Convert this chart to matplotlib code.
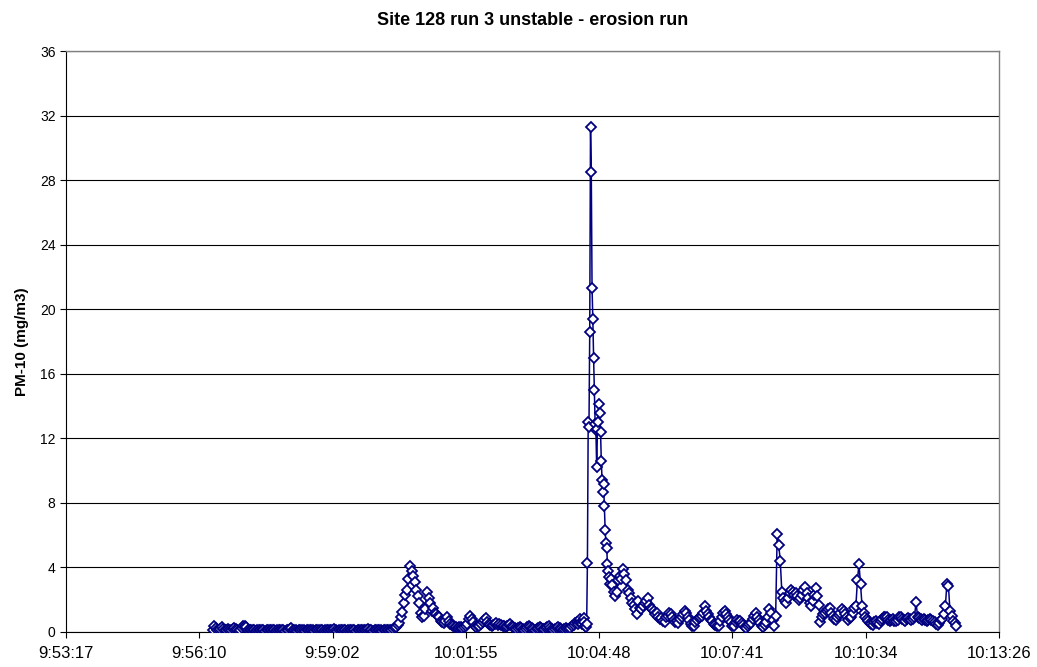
import pandas as pd
import numpy as np
import matplotlib
matplotlib.use('Agg')
import matplotlib.pyplot as plt

plt.rcParams['font.family'] = ['Liberation Sans', 'DejaVu Sans']

# Origen del eje X y etiquetas (formato Excel)
inicio_eje = '09:53:17'
ancho_eje_s = 1209.6
etiquetas_x = ['9:53:17', '9:56:10', '9:59:02', '10:01:55', '10:04:48',
               '10:07:41', '10:10:34', '10:13:26']

# Tramo 1: muestreo cada 2 s
inicio_1 = '09:56:27'
paso_1 = 2
pm10_1 = [
    0.15, 0.35, 0.25, 0.1, 0.15, 0.2, 0.3, 0.2, 0.1, 0.15,
    0.2, 0.15, 0.1, 0.2, 0.25, 0.2, 0.1, 0.05, 0.15, 0.25,
    0.35, 0.4, 0.3, 0.15, 0.1, 0.1, 0.15, 0.1, 0.05, 0.1,
    0.1, 0.15, 0.1, 0.1, 0.05, 0.1, 0.15, 0.1, 0.1, 0.15,
    0.1, 0.05, 0.1, 0.1, 0.15, 0.1, 0.1, 0.05, 0.1, 0.15,
    0.2, 0.25, 0.15, 0.1, 0.1, 0.05, 0.1, 0.1, 0.15, 0.1,
    0.05, 0.1, 0.1, 0.15, 0.1, 0.1, 0.05, 0.1, 0.1, 0.1,
    0.15, 0.1, 0.05, 0.1, 0.1, 0.1, 0.15, 0.1, 0.15, 0.2,
    0.1, 0.05, 0.1, 0.1, 0.15, 0.1, 0.1, 0.05, 0.1, 0.1,
    0.15, 0.1, 0.1, 0.05, 0.1, 0.1, 0.15, 0.1, 0.1, 0.1,
    0.15, 0.2, 0.1, 0.1, 0.05, 0.1, 0.1, 0.15, 0.1, 0.1,
    0.05, 0.1, 0.1, 0.1, 0.15, 0.1, 0.15, 0.2,
    0.25, 0.3, 0.45, 0.55, 0.9, 1.25, 1.8, 2.3, 2.6, 3.3,
    4.1, 3.8, 3.5, 3.1, 2.6, 2.2, 1.8, 1.2, 0.9, 1.0,
    1.4, 2.5, 2.1, 1.8, 1.3, 1.5, 1.2, 1.1, 1.0, 0.9,
    0.7, 0.6, 0.55, 0.7, 0.9, 0.7, 0.5, 0.45, 0.35, 0.3,
    0.3, 0.25, 0.3, 0.3, 0.25, 0.3, 0.35, 0.5, 0.8, 1.0,
    0.8, 0.6, 0.4, 0.3, 0.35, 0.4, 0.5, 0.6, 0.75, 0.85,
    0.6, 0.5, 0.45, 0.4, 0.45, 0.5, 0.55, 0.45,
    0.5, 0.45, 0.4, 0.35, 0.3, 0.35, 0.45, 0.5, 0.4, 0.3,
    0.25, 0.2, 0.25, 0.3, 0.25, 0.2, 0.15, 0.2, 0.3, 0.35,
    0.3, 0.25, 0.2, 0.15, 0.2, 0.25, 0.3, 0.25, 0.2, 0.2,
    0.25, 0.3, 0.35, 0.25, 0.2, 0.15, 0.2, 0.25, 0.3, 0.25,
    0.2, 0.15, 0.2, 0.25, 0.2, 0.2, 0.25, 0.35, 0.45, 0.55,
    0.6, 0.5,
]

# Tramo 2: pico principal, muestreo cada 1 s
inicio_2 = '10:04:22'
paso_2 = 1
pm10_2 = [
    0.6, 0.75, 0.8, 0.6, 0.5, 0.7, 0.85, 0.6, 0.4, 0.3,
    0.5, 4.3, 13.0, 12.7, 18.6, 31.3, 28.5, 21.3, 19.4, 17.0,
    15.0, 12.9, 12.5, 10.2, 12.6, 13.0, 14.1, 13.6, 12.4, 10.6,
    9.4, 8.7, 9.2, 7.8, 6.3, 5.5, 5.2, 4.2, 3.8, 3.4,
    3.0, 3.3,
]

# Tramo 3: cola, muestreo cada 2 s
inicio_3 = '10:05:05'
paso_3 = 2
pm10_3 = [
    2.9, 2.5, 2.2, 2.5, 3.2, 3.5, 3.3, 3.9, 3.6, 3.2,
    2.6, 2.4, 2.1, 1.8, 1.7, 1.4, 1.1, 1.9, 1.5, 1.4,
    1.6, 1.8, 1.9, 2.1, 1.7, 1.5, 1.4, 1.3, 1.1, 1.2,
    0.9, 0.8, 0.85, 0.65, 0.6, 0.9, 1.0, 1.2, 1.1, 0.9,
    0.75, 0.6, 0.65, 0.55, 0.8, 0.9, 1.1, 1.3, 1.2, 0.9,
    0.75, 0.5, 0.4, 0.35, 0.6, 0.75, 0.85, 0.9, 1.0, 1.2,
    1.6, 1.3, 1.1, 0.95, 0.75, 0.65, 0.5, 0.45, 0.35, 0.4,
    0.7, 0.9, 1.2, 1.3, 1.1, 0.9, 0.75, 0.6, 0.4, 0.35,
    0.6, 0.75, 0.7, 0.65, 0.55, 0.45, 0.3, 0.25, 0.35, 0.5,
    0.55, 0.8, 1.0, 1.15, 0.9, 0.75, 0.55, 0.4, 0.33, 0.45,
    0.6, 0.95, 1.4, 1.2, 0.75, 0.35, 1.0, 6.1, 5.4, 4.4,
    2.5, 2.1, 1.9, 1.8, 2.1, 2.4, 2.6, 2.5, 2.3, 2.4,
    2.2, 2.0, 2.1, 2.3, 2.6, 2.8, 2.4, 2.1, 1.8, 1.6,
    1.9, 2.3, 2.7, 2.2, 1.7, 0.6, 0.95, 1.1, 1.2, 1.3,
    1.4, 1.5, 1.2, 1.0, 0.8, 0.75, 0.9, 1.05, 1.2, 1.4,
    1.3, 1.1, 0.95, 0.75, 0.85, 0.95, 1.2, 1.5, 1.6, 3.2,
    4.2, 3.0, 1.6, 1.2, 0.95, 0.8, 0.65, 0.55, 0.5, 0.45,
    0.6, 0.65, 0.55, 0.5, 0.65, 0.8, 0.9, 0.95, 0.9, 0.75,
    0.7, 0.75, 0.8, 0.7, 0.65, 0.75, 0.9, 0.95, 0.8, 0.75,
    0.7, 0.8, 0.85, 0.8, 0.75, 0.8, 0.95, 1.85, 0.95, 0.85,
    0.8, 0.75, 0.8, 0.75, 0.7, 0.75, 0.8, 0.75, 0.7, 0.6,
    0.5, 0.45, 0.55, 0.75, 0.8, 1.1, 1.6, 3.0, 2.85, 1.3,
    1.0, 0.7, 0.55, 0.4,
]


def segundos(hora):
    # segundos desde el inicio del eje
    return (pd.to_timedelta(hora) - pd.to_timedelta(inicio_eje)).total_seconds()


tiempos = []
valores = []
for ini, paso, serie in [(inicio_1, paso_1, pm10_1),
                         (inicio_2, paso_2, pm10_2),
                         (inicio_3, paso_3, pm10_3)]:
    t0 = segundos(ini)
    tiempos.extend(t0 + paso * np.arange(len(serie)))
    valores.extend(serie)

fig = plt.figure(figsize=(10.37, 6.67), dpi=100)
ax = fig.add_axes([0.0636, 0.0525, 0.8998, 0.871])

ax.plot(tiempos, valores, color='#000080', lw=1.1, marker='D', markersize=5.0,
        mfc='white', mec='#000080', mew=1.3, zorder=3)

ax.set_xlim(0, ancho_eje_s)
ax.set_ylim(0, 36)
ax.set_yticks(np.arange(0, 37, 4))
ax.set_xticks(np.linspace(0, ancho_eje_s, len(etiquetas_x)))
ax.set_xticklabels(etiquetas_x)
ax.tick_params(axis='both', direction='out', length=4, color='black', width=0.8)
ax.tick_params(axis='y', labelsize=10)
ax.tick_params(axis='x', labelsize=12, pad=6)

ax.yaxis.grid(True, color='black', lw=0.8)
ax.set_axisbelow(True)
for lado in ['top', 'right']:
    ax.spines[lado].set_color('#808080')
    ax.spines[lado].set_linewidth(1.0)
ax.spines['left'].set_color('black')
ax.spines['bottom'].set_color('black')

ax.set_title('Site 128 run 3 unstable - erosion run', fontsize=13,
             fontweight='bold', pad=19)
ax.set_ylabel('PM-10 (mg/m3)', fontsize=11, fontweight='bold', labelpad=8)

fig.savefig('out.png', dpi=100)
